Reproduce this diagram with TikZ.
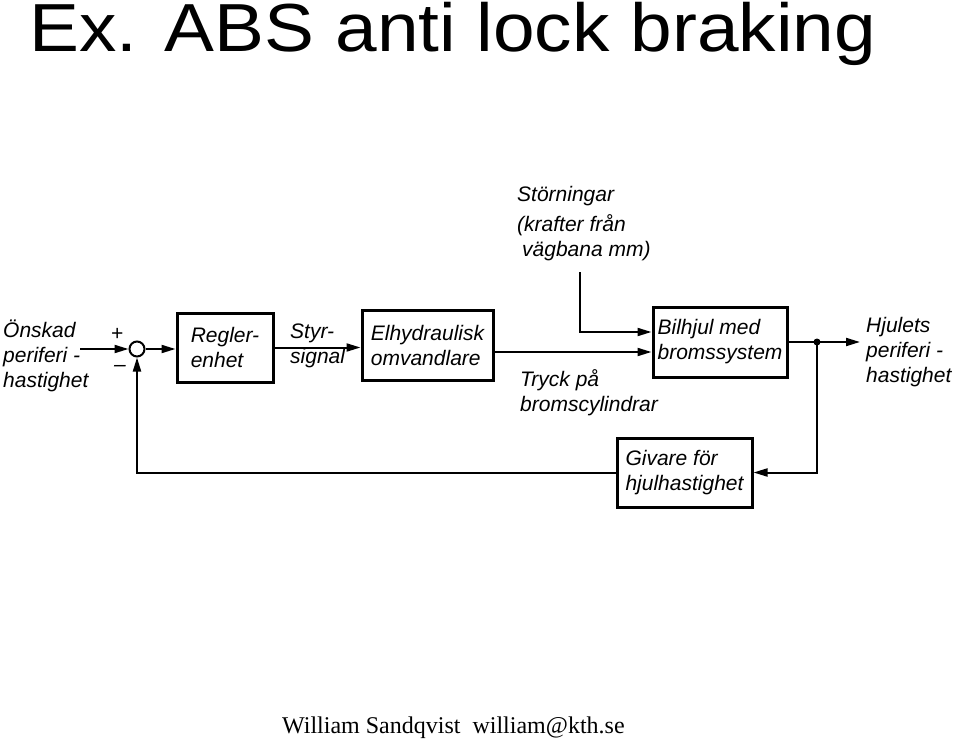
\documentclass[tikz,border=0pt]{standalone}
\usepackage{fontspec}
\setmainfont{Liberation Sans}
\newfontfamily\footfont{Liberation Serif}
\usetikzlibrary{arrows.meta}
\begin{document}
\begin{tikzpicture}[x=1pt,y=-1pt,
  lbl/.style={inner sep=0pt,align=left,font=\fontsize{21}{25}\selectfont\itshape},
  blk/.style={draw,line width=3pt,inner sep=0pt,align=left,font=\fontsize{21}{25}\selectfont\itshape},
  conn/.style={line width=2pt},
  arr/.style={conn,-{Triangle[length=14pt,width=8pt]}}]
\useasboundingbox (0,0) rectangle (960,746);
% title and footer
\node[anchor=base west,inner sep=0pt,font=\fontsize{68}{68}\selectfont] (title) at (29,52) {\scalebox{1.1}[1]{Ex. ABS anti lock braking}};
\node[anchor=base west,inner sep=0pt,font=\footfont\fontsize{24}{24}\selectfont] (foot) at (282,733) {William Sandqvist\ \ william@kth.se};
% blocks
\node[blk,minimum width=96pt,minimum height=69pt] (reg) at (225,347.5) {Regler-\\enhet};
\node[blk,minimum width=131pt,minimum height=70pt] (elh) at (427.5,345) {Elhydraulisk\\omvandlare};
\node[blk,minimum width=134pt,minimum height=70pt] (bil) at (720,342) {Bilhjul med\\bromssystem};
\node[blk,minimum width=135pt,minimum height=69pt] (giv) at (684.5,472.5) {Givare för\\hjulhastighet};
\node[draw,circle,line width=2pt,minimum size=15pt,inner sep=0pt] (sum) at (137,349) {};
\node[circle,fill,inner sep=0pt,minimum size=7pt] (dot) at (817,342) {};
% labels
\node[lbl,anchor=west] (onskad) at (3,356) {Önskad\\periferi -\\hastighet};
\node[lbl] (plus) at (117,334) {+};
\node[lbl] (minus) at (120,368) {–};
\node[lbl,anchor=west] (styr) at (290,346) {Styr-\\signal};
\node[lbl,anchor=west] (tryck) at (520,393) {Tryck på\\bromscylindrar};
\node[lbl,anchor=west] (storn) at (517,224) {Störningar\\[5pt](krafter från\\\hspace{5pt}vägbana mm)};
\node[lbl,anchor=west] (hjul) at (866,352.5) {Hjulets\\periferi -\\hastighet};
% connectors
\coordinate (in) at (80,349);
\coordinate (dist) at (580,272);
\coordinate (out) at (860,342);
\coordinate (bilin1) at ([yshift=10pt]bil.west);
\coordinate (bilin2) at ([yshift=-10pt]bil.west);
\draw[arr] (in) -- (sum);
\draw[arr] (sum) -- (sum -| reg.west);
\draw[arr] (reg.east) -- (reg.east -| elh.west);
\draw[arr] (elh.east |- bilin2) -- (bilin2);
\draw[arr] (dist) |- (bilin1);
\draw[conn] (bil.east) -- (dot.center);
\draw[arr] (dot.center) -- (out);
\draw[arr] (dot.center) |- (giv.east);
\draw[arr] (giv.west) -| (sum.south);
\end{tikzpicture}
\end{document}
